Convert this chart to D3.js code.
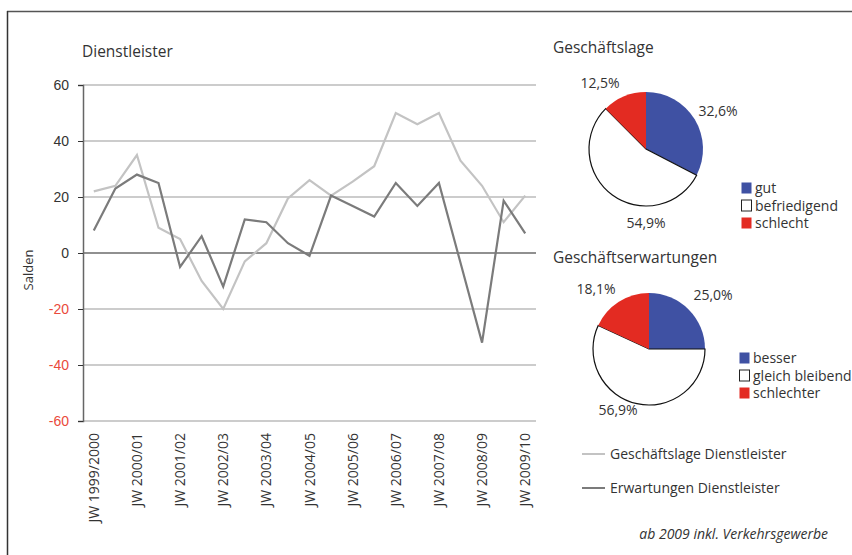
<!DOCTYPE html>
<html><head><meta charset="utf-8">
<script src="https://cdn.jsdelivr.net/npm/d3@7"></script>
<style>
body{margin:0;background:#fff;}
svg{display:block;}
text{font-family:"Open Sans","DejaVu Sans",sans-serif;}
</style></head>
<body><svg id="c" width="852" height="555"></svg>
<script>
const periods = ["JW 1999/2000","","JW 2000/01","","JW 2001/02","","JW 2002/03","","JW 2003/04","","JW 2004/05","","JW 2005/06","","JW 2006/07","","JW 2007/08","","JW 2008/09","","JW 2009/10"];
const geschaeftslage = [22,24,35,9,5,-10,-20,-3,3.5,19.5,26,20.5,25.5,31,50,46,50,33,24,11,20.5];
const erwartungen   = [8,23,28,25,-5,6,-12,12,11,3.5,-1,20.5,16.8,13,25,16.8,25,-3.5,-32,18.7,7];
const yTicks = [60,40,20,0,-20,-40,-60];
const seriesNames = ["Geschäftslage Dienstleister","Erwartungen Dienstleister"];
const lageLabels = ["gut","befriedigend","schlecht"];
const lageValues = [32.6,54.9,12.5];
const erwLabels = ["besser","gleich bleibend","schlechter"];
const erwValues = [25.0,56.9,18.1];
const pieColors = ["#3f51a3","#ffffff","#e32b22"];

const TXT = "#333333";
const NEG = "#ea4a3c";
const svg = d3.select("#c");
// frame
svg.append("line").attr("x1",7).attr("x2",852).attr("y1",11.5).attr("y2",11.5).attr("stroke","#555").attr("stroke-width",1.5);
svg.append("line").attr("x1",7.5).attr("x2",7.5).attr("y1",11).attr("y2",555).attr("stroke","#333").attr("stroke-width",1.5);

const x = d3.scalePoint().domain(d3.range(periods.length)).range([83,536]).padding(0.5);
const y = d3.scaleLinear().domain([-60,60]).range([421,85]);

svg.append("text").attr("x",82).attr("y",57).attr("font-size",15.5).attr("fill",TXT).text("Dienstleister");

// gridlines
svg.append("g").selectAll("line").data(yTicks).join("line")
  .attr("x1",83).attr("x2",536).attr("y1",d=>y(d)).attr("y2",d=>y(d))
  .attr("stroke",d=>d===0?"#222":"#9a9a9a").attr("stroke-width",1.2);

// y axis
const yAxis = d3.axisLeft(y).tickValues(yTicks).tickSize(5).tickPadding(9).tickFormat(d=>String(d));
const gy = svg.append("g").attr("transform","translate(83,0)").call(yAxis);
gy.attr("font-family","'Liberation Sans',Arial,sans-serif").attr("font-size",14);
gy.select(".domain").attr("stroke","#666").attr("stroke-width",1.5);
gy.selectAll(".tick line").attr("stroke","#333");
gy.selectAll(".tick text").each(function(){
  const neg = +this.textContent < 0;
  d3.select(this).attr("fill", neg?NEG:TXT).style("fill", neg?NEG:TXT)
    .style("font-family","'Liberation Sans',Arial,sans-serif").style("font-size","14px");
});

svg.append("text").attr("transform","translate(33,270) rotate(-90)").attr("text-anchor","middle").attr("font-size",13).attr("fill",TXT).text("Salden");

// x labels
svg.append("g").selectAll("text").data(periods.map((p,i)=>({p,i})).filter(d=>d.p)).join("text")
  .attr("transform",d=>`translate(${x(d.i)+5},433) rotate(-90)`)
  .attr("text-anchor","end").attr("font-size",14).attr("fill",TXT).text(d=>d.p);

// lines
const line = d3.line().x((d,i)=>x(i)).y(d=>y(d));
svg.append("path").datum(geschaeftslage).attr("d",line).attr("fill","none").attr("stroke","#c3c3c3").attr("stroke-width",2.2);
svg.append("path").datum(erwartungen).attr("d",line).attr("fill","none").attr("stroke","#7b7b7b").attr("stroke-width",2.2);

// line legend
const legC = ["#c3c3c3","#7b7b7b"];
seriesNames.forEach((n,i)=>{
  const yy = 454 + i*34;
  svg.append("line").attr("x1",582).attr("x2",605).attr("y1",yy).attr("y2",yy).attr("stroke",legC[i]).attr("stroke-width",2);
  svg.append("text").attr("x",610).attr("y",yy+5).attr("font-size",14).attr("fill",TXT).text(n);
});
svg.append("text").attr("x",828).attr("y",539).attr("text-anchor","end").attr("font-size",14).attr("font-style","italic").attr("fill",TXT).text("ab 2009 inkl. Verkehrsgewerbe");

// pies
function drawPie(title, tx, ty, cx, cy, r, values, labels, labelPos, legX, legY){
  svg.append("text").attr("x",tx).attr("y",ty).attr("font-size",15.5).attr("fill",TXT).text(title);
  const pie = d3.pie().sort(null).value(d=>d)(values);
  const arc = d3.arc().innerRadius(0).outerRadius(r);
  const g = svg.append("g").attr("transform",`translate(${cx},${cy})`);
  g.selectAll("path").data(pie).join("path").attr("d",arc)
    .attr("fill",(d,i)=>pieColors[i])
    .attr("stroke",(d,i)=>i===1?"#111":"none").attr("stroke-width",1.2);
  values.forEach((v,i)=>{
    svg.append("text").attr("x",labelPos[i][0]).attr("y",labelPos[i][1]).attr("text-anchor","middle")
      .attr("font-size",14).attr("fill",TXT).text(v.toFixed(1).replace(".",",")+"%");
  });
  labels.forEach((l,i)=>{
    const yy = legY + i*17.5;
    svg.append("rect").attr("x",legX+0.5).attr("y",yy-5.5).attr("width",10).attr("height",11)
      .attr("fill",pieColors[i]).attr("stroke",i===1?"#222":"none").attr("stroke-width",1);
    svg.append("text").attr("x",legX+14).attr("y",yy+5).attr("font-size",14).attr("fill",TXT).text(l);
  });
}
drawPie("Geschäftslage",553,53,646,149,57,lageValues,lageLabels,[[718,116],[646,228],[600,88]],741,188);
drawPie("Geschäftserwartungen",553,263,649,349,56,erwValues,erwLabels,[[713,300],[618,415],[596,294]],739,358);
</script></body></html>
